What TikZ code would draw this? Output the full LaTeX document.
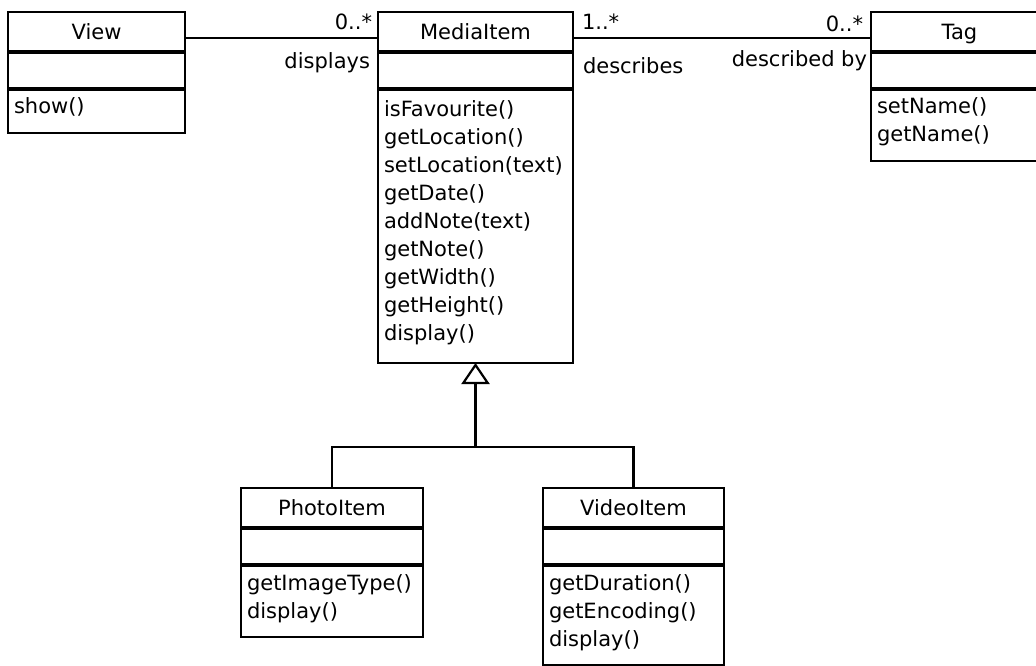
\documentclass[tikz,border=0pt]{standalone}
\usepackage{fontspec}
\setmainfont{DejaVu Sans}
\usetikzlibrary{arrows.meta,positioning}

\begin{document}
\begin{tikzpicture}[
  x=1pt,y=-1pt,
  font=\fontsize{21}{28}\selectfont,
  every node/.style={outer sep=0pt},
  frame/.style={draw=black,line width=2.6pt},
  head/.style={frame,minimum width=#1,minimum height=40pt,inner sep=0pt,
               text height=18pt,text depth=3pt},
  attr/.style={frame,minimum width=#1,minimum height=37pt,inner sep=0pt},
  % the rules keep the same top and bottom gap in every operation box
  ops/.style={frame,text width=#1,align=left,inner xsep=6pt,inner ysep=0pt,
              execute at begin node={\rule{0pt}{25pt}},
              execute at end node={\rule[-19pt]{0pt}{19pt}}},
  divider/.style={line width=4pt},
  assoc/.style={line width=2.2pt},
  role/.style={inner sep=0pt,text height=15pt,text depth=4pt},
  inherit/.style={line width=2.2pt,-{Triangle[open,length=21pt,width=28pt]}},
  ]
  \useasboundingbox (0,0) rectangle (1036,666);

  \node[head=195pt] (media) at (475.5,32) {MediaItem};
  \node[attr=195pt,below=0pt of media] (media-attr) {};
  \node[ops=183pt,minimum height=274pt,below=0pt of media-attr] (media-ops)
    {isFavourite()\\getLocation()\\setLocation(text)\\getDate()\\addNote(text)\\
     getNote()\\getWidth()\\getHeight()\\display()};

  \node[head=177pt,left=193pt of media] (view) {View};
  \node[attr=177pt,below=0pt of view] (view-attr) {};
  \node[ops=165pt,below=0pt of view-attr] (view-ops) {show()};

  \node[head=177pt,right=298pt of media] (tag) {Tag};
  \node[attr=177pt,below=0pt of tag] (tag-attr) {};
  \node[ops=165pt,below=0pt of tag-attr] (tag-ops) {setName()\\getName()};

  \node[head=182pt,below=125pt of media-ops,xshift=-143.5pt] (photo) {PhotoItem};
  \node[attr=182pt,below=0pt of photo] (photo-attr) {};
  \node[ops=170pt,below=0pt of photo-attr] (photo-ops)
    {getImageType()\\display()};

  \node[head=181pt,below=125pt of media-ops,xshift=158pt] (video) {VideoItem};
  \node[attr=181pt,below=0pt of video] (video-attr) {};
  \node[ops=169pt,below=0pt of video-attr] (video-ops)
    {getDuration()\\getEncoding()\\display()};

  \foreach \c in {view,media,tag,photo,video}{
    \draw[divider] (\c.south west) -- (\c.south east);
    \draw[divider] (\c-attr.south west) -- (\c-attr.south east);
  }

  \draw[assoc] ([yshift=-6pt]view.east) -- ([yshift=-6pt]media.west)
    node[role,pos=1,anchor=base east,xshift=-6pt,yshift=8pt] {0..*}
    node[role,pos=1,anchor=base east,xshift=-8pt,yshift=-31pt] {displays};
  \draw[assoc] ([yshift=-6pt]media.east) -- ([yshift=-6pt]tag.west)
    node[role,pos=0,anchor=base west,xshift=9pt,yshift=8pt] {1..*}
    node[role,pos=0,anchor=base west,xshift=10pt,yshift=-36pt] {describes}
    node[role,pos=1,anchor=base east,xshift=-8pt,yshift=6pt] {0..*}
    node[role,pos=1,anchor=base east,xshift=-4pt,yshift=-29pt] {described by};

  \coordinate[below=84pt of media-ops.south] (split);
  \draw[inherit] (split) -- (media-ops.south);
  \draw[assoc] (photo.north) |- (split) -| (video.north);
\end{tikzpicture}
\end{document}
